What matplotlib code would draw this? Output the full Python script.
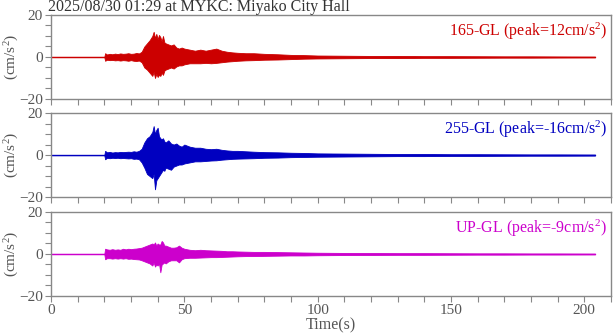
import matplotlib
matplotlib.use("Agg")
import matplotlib.pyplot as plt
from matplotlib.ticker import MultipleLocator
import numpy as np

plt.rcParams['font.family'] = ['Liberation Serif', 'DejaVu Serif']
plt.rcParams['mathtext.fontset'] = 'custom'
plt.rcParams['mathtext.rm'] = 'Liberation Serif'
plt.rcParams['mathtext.it'] = 'Liberation Serif:italic'

title = "2025/08/30 01:29 at MYKC: Miyako City Hall"

# envelope of each trace (upper / lower extremes)
t = [0, 20.0, 20.3, 21, 22, 23, 24, 25, 26, 27,
     28, 29, 30, 31, 32, 33, 34, 35, 36, 37,
     38, 38.5, 39, 39.5, 40, 40.5, 41, 41.5, 42, 42.5,
     43, 44, 45, 46, 47, 48, 49, 50, 52, 54,
     56, 58, 60, 62, 64, 66, 68, 70, 73, 76,
     80, 85, 90, 95, 100, 110, 120, 130, 140, 150,
     160, 170, 180, 190, 204]

ns_hi = [0.1, 0.1, 1.8, 1.2, 1.5, 1.3, 1.6, 1.4, 1.7, 1.5,
         1.6, 1.8, 1.5, 1.6, 1.9, 1.7, 2.5, 5.0, 6.5, 8.0,
         10.0, 12.0, 9.0, 11.0, 8.5, 10.5, 9.5, 7.5, 10.0, 7.0,
         6.5, 6.0, 5.5, 6.0, 4.5, 4.0, 4.5, 4.0, 3.5, 3.0,
         3.5, 3.0, 3.5, 4.0, 3.0, 2.5, 2.2, 2.0, 1.8, 1.8,
         1.5, 1.3, 1.0, 0.9, 0.7, 0.6, 0.5, 0.5, 0.4, 0.4,
         0.35, 0.3, 0.3, 0.25, 0.2]
ns_lo = [-0.1, -0.1, -1.8, -1.3, -1.5, -1.4, -1.6, -1.5, -1.7, -1.5,
         -1.6, -1.8, -1.5, -1.8, -1.9, -1.7, -2.5, -5.0, -6.0, -7.5,
         -9.0, -7.0, -10.0, -8.0, -9.5, -8.5, -9.0, -7.5, -8.5, -6.5,
         -6.0, -5.5, -5.0, -5.5, -4.5, -4.0, -4.0, -3.5, -3.0, -3.0,
         -3.0, -2.8, -3.0, -2.8, -2.5, -2.2, -2.0, -1.8, -1.6, -1.5,
         -1.3, -1.2, -1.0, -0.8, -0.7, -0.6, -0.5, -0.5, -0.4, -0.4,
         -0.35, -0.3, -0.3, -0.25, -0.2]

ew_hi = [0.1, 0.1, 2.0, 1.3, 1.5, 1.2, 1.4, 1.3, 1.5, 1.4,
         1.5, 1.6, 1.5, 1.8, 1.6, 2.0, 3.0, 6.0, 8.0, 9.0,
         11.0, 13.8, 10.0, 12.0, 13.0, 9.0, 8.0, 7.5, 8.0, 6.5,
         6.0, 7.0, 5.5, 5.0, 5.5, 4.5, 4.0, 5.0, 4.0, 3.5,
         3.5, 3.0, 2.8, 3.0, 2.5, 2.2, 2.0, 2.0, 1.8, 1.6,
         1.4, 1.3, 1.1, 1.0, 0.8, 0.7, 0.6, 0.5, 0.5, 0.4,
         0.4, 0.35, 0.3, 0.3, 0.25]
ew_lo = [-0.1, -0.1, -2.0, -1.3, -1.5, -1.3, -1.4, -1.3, -1.5, -1.4,
         -1.5, -1.6, -1.5, -1.8, -1.7, -2.0, -3.5, -6.0, -9.0, -10.0,
         -11.0, -9.0, -16.3, -12.0, -11.0, -10.0, -9.0, -8.0, -7.0, -7.5,
         -6.0, -6.5, -7.0, -5.5, -5.0, -4.5, -4.5, -4.0, -3.5, -3.0,
         -3.0, -2.8, -2.6, -2.5, -2.2, -2.0, -1.8, -1.7, -1.6, -1.5,
         -1.3, -1.2, -1.0, -0.9, -0.8, -0.7, -0.6, -0.5, -0.5, -0.4,
         -0.4, -0.35, -0.3, -0.3, -0.25]

ud_hi = [0.1, 0.1, 2.5, 2.2, 2.0, 2.3, 2.0, 2.2, 2.0, 2.5,
         2.2, 2.5, 2.3, 2.5, 2.6, 2.8, 3.0, 3.5, 4.0, 4.5,
         5.0, 4.5, 5.5, 4.0, 5.0, 4.5, 4.5, 6.2, 5.5, 4.0,
         4.0, 3.5, 3.0, 3.0, 3.2, 4.0, 3.0, 2.5, 2.0, 1.8,
         2.0, 1.8, 1.7, 1.6, 1.5, 1.3, 1.3, 1.2, 1.1, 1.0,
         1.0, 0.9, 0.8, 0.7, 0.6, 0.5, 0.45, 0.4, 0.4, 0.35,
         0.3, 0.3, 0.25, 0.25, 0.2]
ud_lo = [-0.1, -0.1, -2.5, -2.0, -2.0, -2.2, -2.0, -2.2, -2.0, -2.2,
         -2.0, -2.3, -2.2, -2.4, -2.5, -2.6, -3.0, -3.5, -4.0, -4.5,
         -5.5, -4.0, -6.0, -5.0, -5.5, -4.5, -8.7, -5.0, -4.5, -4.0,
         -4.5, -3.5, -3.0, -3.0, -3.0, -4.0, -2.5, -2.0, -1.8, -1.8,
         -1.7, -1.6, -1.5, -1.5, -1.4, -1.3, -1.2, -1.1, -1.0, -1.0,
         -0.9, -0.8, -0.7, -0.7, -0.6, -0.5, -0.45, -0.4, -0.4, -0.35,
         -0.3, -0.3, -0.25, -0.25, -0.2]

labels = ["165-GL (peak=12cm/s$^2$)",
          "255-GL (peak=-16cm/s$^2$)",
          "UP-GL (peak=-9cm/s$^2$)"]
colors = ['#cc0000', '#0000c0', '#cc00cc']
traces = [(ns_hi, ns_lo), (ew_hi, ew_lo), (ud_hi, ud_lo)]

fig = plt.figure(figsize=(6.13, 3.34), dpi=100)
bottoms = [0.7036, 0.410, 0.1138]
h = 0.2515
gray = '#555555'

for i in range(3):
    ax = fig.add_axes([0.0832, bottoms[i], 0.9135, h])
    hi, lo = traces[i]
    ax.fill_between(t, lo, hi, color=colors[i], linewidth=0.6, edgecolor=colors[i])
    ax.plot([t[0], t[-1]], [0, 0], color=colors[i], lw=0.9)
    ax.set_xlim(0, 210)
    ax.set_ylim(-20, 20)
    ax.xaxis.set_major_locator(MultipleLocator(50))
    ax.xaxis.set_minor_locator(MultipleLocator(10))
    ax.yaxis.set_major_locator(MultipleLocator(20))
    ax.yaxis.set_minor_locator(MultipleLocator(5))
    ax.tick_params(which='both', direction='out', length=4, width=0.8,
                   color='#888888', labelcolor=gray, labelsize=11, pad=2)
    for s in ax.spines.values():
        s.set_color('#888888')
        s.set_linewidth(1.0)
    ax.set_ylabel("(cm/s$^2$)", color=gray, fontsize=11)
    ax.yaxis.set_label_coords(-0.054, 0.5)
    ax.text(0.993, 0.93, labels[i], transform=ax.transAxes, ha='right', va='top',
            color=colors[i], fontsize=11.5)
    if i < 2:
        ax.set_xticklabels([])
    else:
        ax.set_xlabel("Time(s)", color=gray, fontsize=11.5, labelpad=0)
    if i == 0:
        ax.set_title(title, loc='left', fontsize=11.5, color='#333333', pad=1, x=-0.005)

fig.savefig("out.png", dpi=100)
